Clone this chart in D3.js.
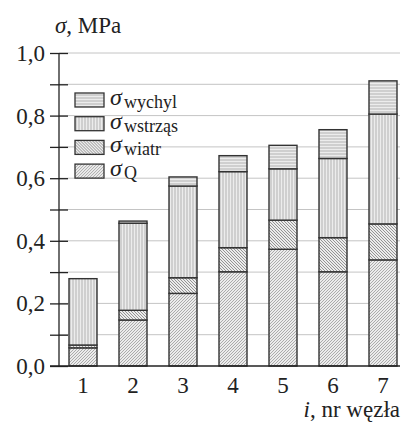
<!DOCTYPE html>
<html>
<head>
<meta charset="utf-8">
<script src="https://cdn.jsdelivr.net/npm/d3@7"></script>
<style>
  body { margin: 0; background: #fff; }
  svg text { font-family: "Liberation Serif", "DejaVu Serif", serif; fill: #222; }
</style>
</head>
<body>
<div id="chart"></div>
<script>
// node numbers and stress components (MPa)
const nodes = ['1', '2', '3', '4', '5', '6', '7'];
const sigmaQ       = [0.058, 0.147, 0.232, 0.301, 0.373, 0.301, 0.339];
const sigmaWiatr   = [0.009, 0.031, 0.050, 0.077, 0.093, 0.109, 0.115];
const sigmaWstrzas = [0.212, 0.278, 0.293, 0.243, 0.164, 0.253, 0.351];
const sigmaWychyl  = [0.000, 0.007, 0.029, 0.051, 0.075, 0.092, 0.106];
const yTicks = [0, 0.2, 0.4, 0.6, 0.8, 1.0];
const yMinorTicks = [0.1, 0.3, 0.5, 0.7, 0.9];

const series = [
    { key: 'Q', sub: 'Q', values: sigmaQ, pat: 'patQ' },
    { key: 'wiatr', sub: 'wiatr', values: sigmaWiatr, pat: 'patWiatr' },
    { key: 'wstrzas', sub: 'wstrząs', values: sigmaWstrzas, pat: 'patWstrzas' },
    { key: 'wychyl', sub: 'wychyl', values: sigmaWychyl, pat: 'patWychyl' }
];

const width = 403, height = 424;
const svg = d3.select('#chart').append('svg')
    .attr('width', width).attr('height', height);

// hatch patterns
const defs = svg.append('defs');
function hatch(id, path, size, stroke, sw) {
    const p = defs.append('pattern').attr('id', id)
        .attr('patternUnits', 'userSpaceOnUse')
        .attr('width', size).attr('height', size);
    p.append('rect').attr('width', size).attr('height', size).attr('fill', '#ececec');
    p.append('path').attr('d', path).attr('stroke', stroke).attr('stroke-width', sw)
        .attr('fill', 'none');
}
hatch('patQ', 'M0,3 L3,0 M-1,1 L1,-1 M2,4 L4,2', 3, '#9a9a9a', 0.8);
hatch('patWiatr', 'M0,0 L3,3 M-1,2 L1,4 M2,-1 L4,1', 3, '#8a8a8a', 0.9);
hatch('patWstrzas', 'M1,0 L1,3', 3, '#a2a2a2', 0.8);
hatch('patWychyl', 'M0,1 L3,1', 3, '#a2a2a2', 0.8);

const x = d3.scaleBand().domain(nodes).range([58, 408])
    .paddingInner(0.44).paddingOuter(0.22);
const y = d3.scaleLinear().domain([0, 1]).range([366, 53]);

// gridlines
svg.append('g').selectAll('line')
    .data(yTicks.concat(yMinorTicks).filter(d => d > 0))
    .enter().append('line')
    .attr('x1', 59).attr('x2', 400)
    .attr('y1', d => y(d)).attr('y2', d => y(d))
    .attr('stroke', '#c4c4c4').attr('stroke-width', 1);

// stacked bars
const rows = nodes.map((n, i) => {
    const r = { node: n };
    series.forEach(s => { r[s.key] = s.values[i]; });
    return r;
});
const stacked = d3.stack().keys(series.map(s => s.key))(rows);

stacked.forEach((layer, li) => {
    svg.append('g').selectAll('rect')
        .data(layer.filter(d => d[1] - d[0] > 0))
        .enter().append('rect')
        .attr('x', d => x(d.data.node))
        .attr('width', x.bandwidth())
        .attr('y', d => y(d[1]))
        .attr('height', d => y(d[0]) - y(d[1]))
        .attr('fill', 'url(#' + series[li].pat + ')')
        .attr('stroke', '#333').attr('stroke-width', 1.4);
});

// y axis
const yAxis = d3.axisLeft(y).tickValues(yTicks.concat(yMinorTicks))
    .tickSize(0).tickFormat('');
const ya = svg.append('g').attr('transform', 'translate(59,0)').call(yAxis);
ya.select('.domain').remove();
svg.append('line').attr('x1', 59).attr('x2', 59).attr('y1', y(1)).attr('y2', y(0))
    .attr('stroke', '#222').attr('stroke-width', 1.3);
ya.selectAll('.tick line').attr('x1', -9).attr('x2', 9)
    .attr('stroke', '#222').attr('stroke-width', 1.3);
svg.append('g').selectAll('text').data(yTicks).enter().append('text')
    .attr('x', 45).attr('y', d => y(d) + 8)
    .attr('text-anchor', 'end').attr('font-size', 23)
    .text(d => d3.format('.1f')(d).replace('.', ','));

// x axis baseline and labels
svg.append('line').attr('x1', 50).attr('x2', 400).attr('y1', y(0)).attr('y2', y(0))
    .attr('stroke', '#222').attr('stroke-width', 1.3);
svg.append('g').selectAll('text').data(nodes).enter().append('text')
    .attr('x', d => x(d) + x.bandwidth() / 2).attr('y', 393)
    .attr('text-anchor', 'middle').attr('font-size', 23)
    .text(d => d);

// axis titles
const yt = svg.append('text').attr('x', 55).attr('y', 33).attr('font-size', 23);
yt.append('tspan').attr('font-style', 'italic').text('σ');
yt.append('tspan').text(', MPa');

const xt = svg.append('text').attr('x', 400).attr('y', 417)
    .attr('text-anchor', 'end').attr('font-size', 23);
xt.append('tspan').attr('font-style', 'italic').text('i');
xt.append('tspan').text(', nr węzła');

// legend (sigma and subscript as separate texts so their boxes stay small)
const legend = svg.append('g').selectAll('g')
    .data(series.slice().reverse()).enter().append('g')
    .attr('transform', (d, i) => 'translate(75,' + (100 + i * 23.7) + ')');
legend.append('rect').attr('x', 0).attr('y', -7).attr('width', 29).attr('height', 14)
    .attr('fill', d => 'url(#' + d.pat + ')')
    .attr('stroke', '#333').attr('stroke-width', 1.3);
legend.append('text').attr('x', 35).attr('y', 5).attr('font-size', 24)
    .attr('font-style', 'italic').text('σ');
legend.append('text').attr('x', 49).attr('y', 8).attr('font-size', 18)
    .text(d => d.sub);
</script>
</body>
</html>
